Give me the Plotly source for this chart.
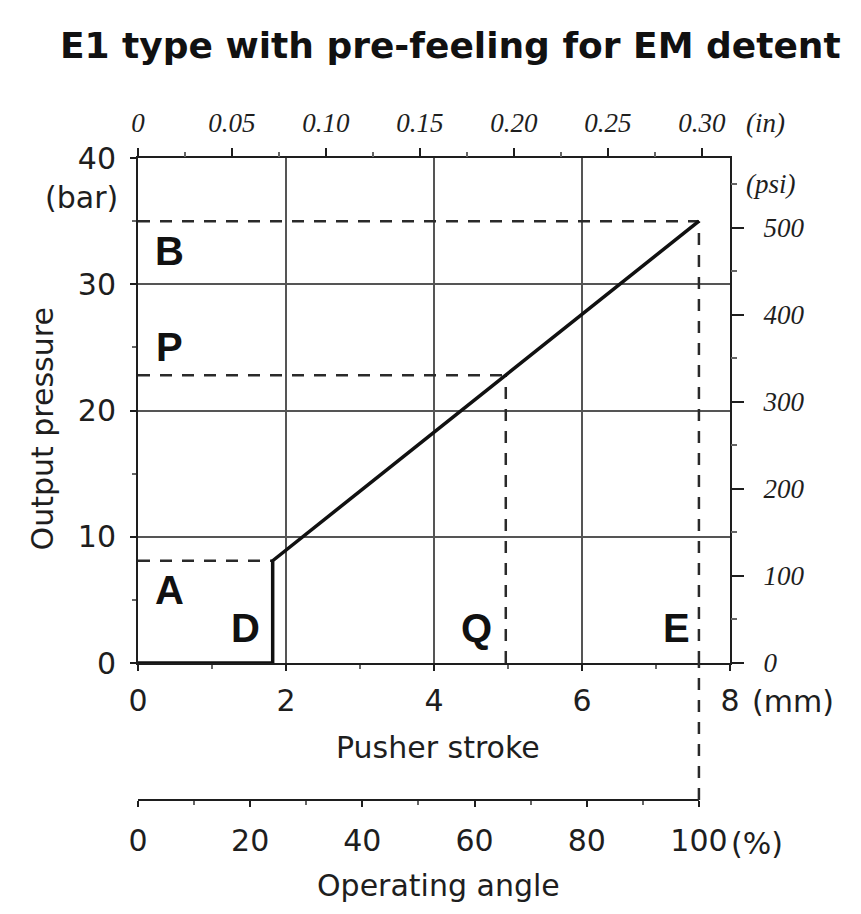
import plotly.graph_objects as go

# Characteristic: pusher stroke (mm) against output pressure (bar)
stroke_mm = [0, 1.82, 1.82, 7.58]
pressure_bar = [0, 0, 8.1, 35]

# Marked levels / strokes on the characteristic
level_A_bar = 8.1
level_P_bar = 22.8
level_B_bar = 35
stroke_D_mm = 1.82
stroke_Q_mm = 4.97
stroke_E_mm = 7.58

# Point labels and where they sit (mm, bar)
point_names = ["A", "B", "P", "D", "Q", "E"]
point_x_mm = [0.42, 0.43, 0.43, 1.45, 4.57, 7.28]
point_y_bar = [5.8, 32.6, 25.0, 2.8, 2.8, 2.8]

# Axis ticks
mm_ticks = [0, 2, 4, 6, 8]
mm_labels = ["0", "2", "4", "6", "8"]
bar_ticks = [0, 10, 20, 30, 40]
bar_labels = ["0", "10", "20", "30", "40"]
in_ticks = [0, 0.05, 0.10, 0.15, 0.20, 0.25, 0.30]
in_labels = ["0", "0.05", "0.10", "0.15", "0.20", "0.25", "0.30"]
psi_ticks = [0, 100, 200, 300, 400, 500]
psi_labels = ["0", "100", "200", "300", "400", "500"]
angle_ticks = [0, 20, 40, 60, 80, 100]
angle_labels = ["0", "20", "40", "60", "80", "100"]

MM_PER_IN = 25.4
PSI_PER_BAR = 14.5038
X_MAX_MM = 8
Y_MAX_BAR = 40

W, H = 861, 914
M_L, M_R, M_T, M_B = 138, 131, 158, 114
plot_h = H - M_T - M_B
Y_DOMAIN_LOW = 137 / plot_h  # room below the main plot for the angle scale

SANS = "DejaVu Sans"
SERIF = "Liberation Serif"
INK = "#1e1e1e"
GRID = "#555555"
DASH_COLOR = "#2a2a2a"

fig = go.Figure()

dash_line = dict(color=DASH_COLOR, width=2.5, dash="12px,10px")

# Dashed reference lines
ref_segments = [
    ([0, stroke_E_mm], [level_B_bar, level_B_bar]),
    ([0, stroke_Q_mm], [level_P_bar, level_P_bar]),
    ([0, stroke_D_mm], [level_A_bar, level_A_bar]),
    ([stroke_Q_mm, stroke_Q_mm], [0, level_P_bar]),
    ([stroke_E_mm, stroke_E_mm], [0, level_B_bar]),
]
for xs, ys in ref_segments:
    fig.add_trace(go.Scatter(x=xs, y=ys, mode="lines", line=dash_line,
                             hoverinfo="skip", showlegend=False))

# Main characteristic curve
fig.add_trace(go.Scatter(x=stroke_mm, y=pressure_bar, mode="lines",
                         line=dict(color="#111111", width=3.5),
                         showlegend=False))

# Invisible traces so the secondary scales are active
fig.add_trace(go.Scatter(x=[0], y=[0], xaxis="x2", yaxis="y", mode="markers",
                         marker=dict(opacity=0), hoverinfo="skip", showlegend=False))
fig.add_trace(go.Scatter(x=[0], y=[0], xaxis="x", yaxis="y2", mode="markers",
                         marker=dict(opacity=0), hoverinfo="skip", showlegend=False))
fig.add_trace(go.Scatter(x=[0], y=[0], xaxis="x3", yaxis="y", mode="markers",
                         marker=dict(opacity=0), hoverinfo="skip", showlegend=False))

tick_font = dict(family=SANS, size=30, color=INK)
italic_font = dict(family=SERIF, size=27, color=INK, style="italic")

fig.update_layout(
    width=W, height=H,
    margin=dict(l=M_L, r=M_R, t=M_T, b=M_B),
    paper_bgcolor="white", plot_bgcolor="white",
    title=dict(text="<b>E1 type with pre-feeling for EM detent</b>",
               font=dict(family=SANS, size=36, color="#111111"),
               x=0.523, xanchor="center", xref="container",
               y=1 - 45 / H, yanchor="middle", yref="container"),
    xaxis=dict(range=[0, X_MAX_MM], tickvals=mm_ticks, ticktext=mm_labels,
               showgrid=True, gridcolor=GRID, gridwidth=2,
               showline=True, linecolor=INK, linewidth=2, mirror=True,
               ticks="outside", ticklen=6, tickwidth=2, tickcolor=INK,
               minor=dict(dtick=1, tick0=0, ticks="outside", ticklen=4,
                          tickwidth=2, tickcolor="#666", showgrid=False),
               tickfont=tick_font, ticklabelstandoff=4, zeroline=False,
               anchor="y", fixedrange=True),
    yaxis=dict(range=[0, Y_MAX_BAR], domain=[Y_DOMAIN_LOW, 1],
               tickvals=bar_ticks, ticktext=bar_labels,
               showgrid=True, gridcolor=GRID, gridwidth=2,
               showline=True, linecolor=INK, linewidth=2, mirror=True,
               ticks="outside", ticklen=6, tickwidth=2, tickcolor=INK,
               minor=dict(dtick=5, tick0=0, ticks="outside", ticklen=4,
                          tickwidth=2, tickcolor="#666", showgrid=False),
               tickfont=tick_font, ticklabelstandoff=8, zeroline=False,
               anchor="x", fixedrange=True),
    xaxis2=dict(range=[0, X_MAX_MM / MM_PER_IN], overlaying="x", side="top",
                anchor="y", tickvals=in_ticks, ticktext=in_labels,
                showgrid=False, showline=False, zeroline=False,
                ticks="outside", ticklen=9, tickwidth=2, tickcolor=INK,
                minor=dict(dtick=0.025, tick0=0, ticks="outside", ticklen=5,
                           tickwidth=2, tickcolor="#666"),
                tickfont=italic_font, ticklabelstandoff=5, fixedrange=True),
    yaxis2=dict(range=[0, Y_MAX_BAR * PSI_PER_BAR], overlaying="y", side="right",
                anchor="x", tickvals=psi_ticks, ticktext=psi_labels,
                showgrid=False, showline=False, zeroline=False,
                ticks="outside", ticklen=13, tickwidth=2, tickcolor=INK,
                minor=dict(dtick=50, tick0=0, ticks="outside", ticklen=6,
                           tickwidth=2, tickcolor="#666"),
                tickfont=italic_font, ticklabelstandoff=14, fixedrange=True),
    xaxis3=dict(range=[0, 100 * X_MAX_MM / stroke_E_mm], overlaying="x",
                anchor="free", position=0, side="bottom",
                tickvals=angle_ticks, ticktext=angle_labels,
                showgrid=False, showline=False, zeroline=False,
                ticks="outside", ticklen=6, tickwidth=2, tickcolor=INK,
                minor=dict(dtick=10, tick0=0, ticks="outside", ticklen=4,
                           tickwidth=2, tickcolor="#666"),
                tickfont=tick_font, ticklabelstandoff=8, fixedrange=True),
)

# Operating-angle scale baseline (0 % .. 100 % = full stroke E) and the
# continuation of the E marker down to it
fig.add_shape(type="line", xref="x", yref="paper", x0=0, x1=stroke_E_mm,
              y0=0, y1=0, line=dict(color=INK, width=2))
fig.add_shape(type="line", xref="x", yref="paper", x0=stroke_E_mm, x1=stroke_E_mm,
              y0=0, y1=Y_DOMAIN_LOW, line=dash_line)

# Point letters
for name, px, py in zip(point_names, point_x_mm, point_y_bar):
    fig.add_annotation(x=px, y=py, xref="x", yref="y", text=f"<b>{name}</b>",
                       showarrow=False, xanchor="center", yanchor="middle",
                       font=dict(family="Liberation Sans", size=40, color="#111111"))

label_font = dict(family=SANS, size=30, color=INK)

# Axis titles
fig.add_annotation(text="Output pressure", xref="paper", x=0, xshift=-96,
                   yref="y", y=18.5, textangle=-90, showarrow=False,
                   xanchor="center", yanchor="middle", font=label_font)
fig.add_annotation(text="Pusher stroke", xref="x", x=4, xshift=4,
                   yref="y", y=0, yshift=-84, showarrow=False,
                   xanchor="center", yanchor="middle", font=label_font)
fig.add_annotation(text="Operating angle", xref="x", x=4, xshift=4,
                   yref="paper", y=0, yshift=-85, showarrow=False,
                   xanchor="center", yanchor="middle", font=label_font)

# Unit labels
fig.add_annotation(text="(bar)", xref="paper", x=0, xshift=-18,
                   yref="y", y=Y_MAX_BAR, yshift=-39, showarrow=False,
                   xanchor="right", yanchor="middle", font=label_font)
fig.add_annotation(text="(mm)", xref="x", x=X_MAX_MM, xshift=20,
                   yref="y", y=0, yshift=-38, showarrow=False,
                   xanchor="left", yanchor="middle", font=label_font)
fig.add_annotation(text="(%)", xref="x3", x=100, xshift=30,
                   yref="paper", y=0, yshift=-43, showarrow=False,
                   xanchor="left", yanchor="middle", font=label_font)
fig.add_annotation(text="(in)", xref="x2", x=0.30, xshift=42,
                   yref="paper", y=1, yshift=35, showarrow=False,
                   xanchor="left", yanchor="middle", font=italic_font)
fig.add_annotation(text="(psi)", xref="paper", x=1, xshift=14,
                   yref="y2", y=550, showarrow=False,
                   xanchor="left", yanchor="middle", font=italic_font)

fig.write_html("out.html")
